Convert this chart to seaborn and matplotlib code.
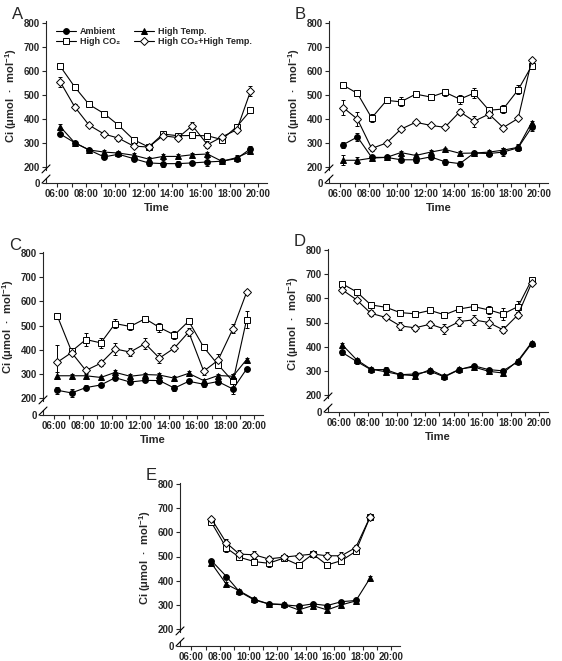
import numpy as np
import pandas as pd
import seaborn as sns
import matplotlib.pyplot as plt
from matplotlib.ticker import MultipleLocator

sns.set_style("ticks")
plt.rcParams['font.family'] = ['Liberation Sans', 'DejaVu Sans']
plt.rcParams['mathtext.default'] = 'regular'

# sampling times (hours)
t_main = [6.2, 7.2, 8.2, 9.25, 10.25, 11.3, 12.35, 13.35, 14.4, 15.4, 16.45, 17.45, 18.5, 19.45]
t_e = [7.4, 8.45, 9.35, 10.4, 11.4, 12.45, 13.5, 14.5, 15.5, 16.5, 17.5, 18.5]

names = ['Ambient', 'High CO\u2082', 'High Temp.', 'High CO\u2082+High Temp.']

# panel A
a_amb = [337, 301, 271, 242, 253, 235, 217, 214, 214, 217, 221, 224, 235, 276]
a_amb_err = [8, 8, 8, 10, 8, 10, 12, 15, 12, 10, 15, 8, 10, 10]
a_co2 = [618, 533, 460, 422, 374, 314, 283, 337, 330, 331, 330, 314, 368, 435]
a_co2_err = [8, 8, 8, 8, 8, 8, 8, 8, 10, 8, 10, 8, 10, 8]
a_ht = [367, 301, 271, 262, 258, 249, 233, 244, 244, 251, 254, 224, 239, 265]
a_ht_err = [10, 8, 8, 8, 8, 8, 8, 8, 8, 8, 10, 8, 12, 8]
a_both = [553, 450, 374, 337, 320, 287, 283, 330, 322, 372, 293, 325, 355, 515]
a_both_err = [20, 10, 8, 8, 10, 10, 8, 8, 10, 15, 15, 8, 8, 20]

# panel B
b_amb = [293, 325, 240, 240, 230, 230, 242, 222, 214, 258, 256, 262, 280, 365]
b_amb_err = [12, 15, 10, 10, 10, 12, 10, 12, 10, 10, 10, 15, 15, 15]
b_co2 = [540, 506, 404, 477, 471, 503, 491, 511, 482, 507, 436, 441, 521, 620]
b_co2_err = [10, 8, 15, 12, 18, 12, 10, 15, 18, 20, 12, 15, 18, 12]
b_ht = [228, 228, 237, 240, 260, 248, 262, 273, 257, 258, 262, 270, 282, 385]
b_ht_err = [20, 15, 8, 8, 8, 8, 8, 8, 8, 8, 8, 8, 8, 8]
b_both = [447, 399, 277, 300, 357, 386, 373, 365, 430, 390, 420, 364, 402, 643]
b_both_err = [30, 28, 10, 8, 8, 8, 8, 8, 12, 22, 15, 8, 8, 8]

# panel C
c_amb = [232, 221, 243, 254, 284, 266, 273, 272, 241, 269, 257, 268, 237, 320]
c_amb_err = [15, 15, 10, 10, 8, 8, 8, 8, 12, 8, 12, 12, 22, 8]
c_co2 = [540, 393, 442, 428, 508, 496, 528, 492, 461, 518, 410, 338, 269, 524]
c_co2_err = [12, 10, 25, 20, 18, 15, 8, 18, 15, 10, 12, 15, 30, 35]
c_ht = [292, 292, 292, 285, 306, 290, 297, 295, 282, 302, 272, 293, 290, 359]
c_ht_err = [15, 8, 8, 8, 8, 8, 8, 8, 8, 8, 8, 8, 8, 8]
c_both = [348, 388, 314, 344, 403, 390, 425, 365, 407, 473, 311, 356, 487, 637]
c_both_err = [70, 10, 12, 12, 25, 15, 22, 20, 12, 15, 15, 25, 20, 8]

# panel D
d_amb = [376, 339, 305, 305, 284, 287, 298, 275, 305, 321, 305, 300, 338, 413]
d_amb_err = [10, 10, 8, 10, 8, 8, 8, 8, 8, 8, 8, 8, 10, 8]
d_co2 = [660, 627, 573, 563, 541, 536, 550, 532, 556, 566, 552, 535, 566, 676]
d_co2_err = [8, 8, 10, 8, 10, 8, 8, 8, 8, 8, 15, 25, 22, 8]
d_ht = [408, 346, 307, 296, 284, 280, 305, 277, 307, 316, 298, 291, 342, 417]
d_ht_err = [8, 8, 8, 8, 8, 8, 8, 8, 8, 8, 8, 8, 8, 8]
d_both = [635, 594, 538, 521, 486, 478, 493, 473, 504, 511, 500, 470, 532, 663]
d_both_err = [10, 8, 12, 8, 15, 12, 15, 20, 18, 20, 22, 15, 12, 8]

# panel E
e_amb = [483, 417, 355, 320, 304, 300, 295, 304, 297, 313, 318, np.nan]
e_amb_err = [8, 8, 8, 8, 8, 8, 8, 8, 8, 8, 8, 0]
e_co2 = [641, 535, 497, 479, 472, 493, 465, 510, 465, 483, 521, 663]
e_co2_err = [8, 15, 10, 12, 15, 8, 12, 8, 10, 10, 10, 8]
e_ht = [472, 385, 358, 323, 304, 302, 279, 297, 279, 300, 316, 410]
e_ht_err = [8, 8, 8, 8, 8, 8, 8, 8, 8, 8, 8, 8]
e_both = [656, 556, 510, 507, 490, 497, 504, 510, 503, 503, 537, 663]
e_both_err = [8, 15, 15, 15, 12, 8, 12, 8, 15, 15, 12, 8]

W, H = 562, 661
fig = plt.figure(figsize=(W / 100, H / 100), dpi=100)

markers = {'Ambient': ('o', 'black'), 'High CO\u2082': ('s', 'white'),
           'High Temp.': ('^', 'black'), 'High CO\u2082+High Temp.': ('D', 'white')}


def panel(letter, left, right, y800, y200, y0, t, vals, errs, legend=False, xlabel=True):
    ppu = (y200 - y800) / 600
    top = y800 - 5 * ppu
    mbot = y200 + 12 * ppu
    ax = fig.add_axes([left / W, 1 - mbot / H, (right - left) / W, (mbot - top) / H])
    lo = fig.add_axes([left / W, 1 - y0 / H, (right - left) / W, 5 / H])

    for name, v, e in zip(names, vals, errs):
        mk, fc = markers[name]
        ax.errorbar(t, v, yerr=e, fmt='none', ecolor='black', elinewidth=0.7,
                    capsize=1.6, capthick=0.7, zorder=2)
        df = pd.DataFrame({'time': t, 'ci': v})
        sns.lineplot(data=df, x='time', y='ci', ax=ax, color='black', linewidth=0.8,
                     marker=mk, markersize=4.2 if mk != 'D' else 3.8,
                     markerfacecolor=fc, markeredgecolor='black', markeredgewidth=0.7,
                     label=name, legend=False, zorder=3)

    for a in (ax, lo):
        a.set_xlim(5.2, 20.6)
        a.spines['right'].set_visible(False)
        a.spines['top'].set_visible(False)
        for s in a.spines.values():
            s.set_linewidth(0.8)
    ax.spines['bottom'].set_visible(False)
    ax.set_ylim(188, 805)
    ax.set_yticks(range(200, 801, 100))
    ax.set_xticks([])
    ax.set_xlabel('')
    ax.set_ylabel('Ci (\u03bcmol  \u00b7  mol$^{-1}$)', fontsize=8, fontweight='bold', labelpad=3)
    ax.tick_params(axis='y', direction='out', length=3, width=0.8, labelsize=7, pad=1.5)
    for lab in ax.get_yticklabels():
        lab.set_fontweight('bold')

    lo.set_ylim(0, 5 / ppu)
    lo.set_yticks([0])
    lo.xaxis.set_minor_locator(MultipleLocator(1))
    lo.set_xticks(range(6, 21, 2))
    lo.set_xticklabels(['%02d:00' % h for h in range(6, 21, 2)], fontsize=7, fontweight='bold')
    lo.tick_params(axis='both', which='both', direction='out', length=3, width=0.8, pad=1.5)
    lo.tick_params(axis='y', labelsize=7)
    for lab in lo.get_yticklabels():
        lab.set_fontweight('bold')
    if xlabel:
        lo.set_xlabel('Time', fontsize=8, fontweight='bold', labelpad=3)
    else:
        lo.set_xlabel('')

    # axis break marks
    for yb in (y200 + 12 * ppu - 1, y0 - 4):
        fig.add_artist(plt.Line2D([(left - 4) / W, (left + 4) / W],
                                  [1 - (yb + 4) / H, 1 - (yb - 4) / H],
                                  color='black', linewidth=0.8))

    fig.text((left - 34) / W, 1 - (y800 - 8) / H, letter, fontsize=12, va='center', ha='left')

    if legend:
        h, l = ax.get_legend_handles_labels()
        ax.legend(h, l, ncol=2, loc='upper left', bbox_to_anchor=(0.02, 1.0), frameon=False,
                  prop={'size': 6.5, 'weight': 'bold'}, handlelength=2.2, handletextpad=0.5,
                  columnspacing=1.5, labelspacing=0.15, borderaxespad=0.2)


panel('A', 46, 267, 22.7, 167, 183, t_main,
      [a_amb, a_co2, a_ht, a_both], [a_amb_err, a_co2_err, a_ht_err, a_both_err], legend=True)
panel('B', 329, 548, 22.7, 167, 183, t_main,
      [b_amb, b_co2, b_ht, b_both], [b_amb_err, b_co2_err, b_ht_err, b_both_err])
panel('C', 43, 263, 253, 398, 415, t_main,
      [c_amb, c_co2, c_ht, c_both], [c_amb_err, c_co2_err, c_ht_err, c_both_err])
panel('D', 328, 548, 250, 395, 412, t_main,
      [d_amb, d_co2, d_ht, d_both], [d_amb_err, d_co2_err, d_ht_err, d_both_err])
panel('E', 180, 400, 484, 629, 646, t_e,
      [e_amb, e_co2, e_ht, e_both], [e_amb_err, e_co2_err, e_ht_err, e_both_err], xlabel=False)

fig.savefig('out.png', dpi=100)
